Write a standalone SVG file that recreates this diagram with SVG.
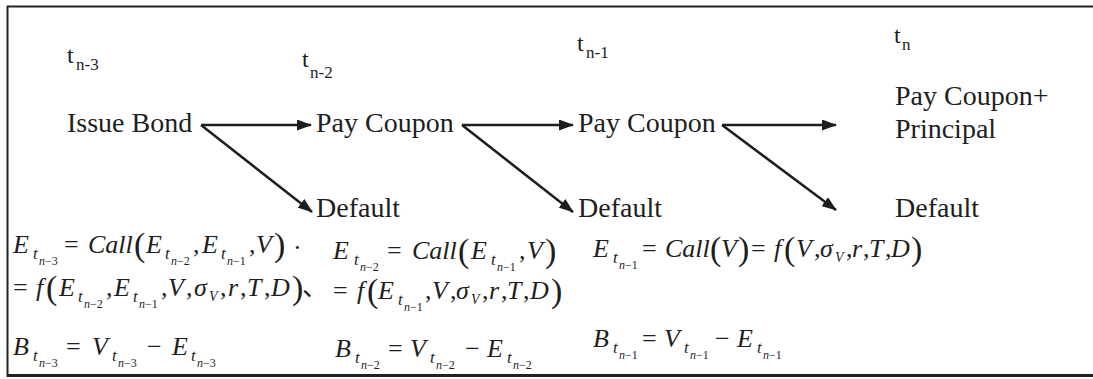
<svg xmlns="http://www.w3.org/2000/svg" width="1093" height="379" viewBox="0 0 1093 379">
<defs>
<style>
.lbl{font-family:"Liberation Serif","Times New Roman",serif;font-size:28px;fill:#1e1e1e}
.tm{font-family:"Liberation Serif","Times New Roman",serif;font-size:24px;fill:#1e1e1e}
.ts{font-size:17px}
.m{font-family:"Liberation Serif","Times New Roman","Noto Sans CJK SC",serif;font-style:italic;font-size:26px;fill:#1e1e1e}
.s1{font-size:17px}
.s2{font-size:12px}
.s3{font-size:14px}
.up{font-style:normal}
.pr{font-style:normal;font-size:34px}
.cn{stroke:#1e1e1e;stroke-width:2.5;fill:none;marker-end:url(#ah)}
.fr{stroke:#222;fill:none}
</style>
<marker id="ah" markerUnits="userSpaceOnUse" markerWidth="15" markerHeight="11" refX="14" refY="5.5" orient="auto">
<path d="M0,0 L15,5.5 L0,11 z" fill="#1e1e1e"/>
</marker>
</defs>
<rect x="0" y="0" width="1093" height="379" fill="#fff"/>
<g id="frame">
<line class="fr" x1="7" y1="6.5" x2="1093" y2="6.5" stroke-width="2"/>
<line class="fr" x1="7.5" y1="6" x2="7.5" y2="377" stroke-width="2"/>
<line class="fr" x1="7" y1="375.5" x2="1093" y2="375.5" stroke-width="3"/>
</g>
<g id="time-labels">
<text class="tm" x="67" y="63">t<tspan class="ts" x="76" y="70">n-3</tspan></text>
<text class="tm" x="302" y="67">t<tspan class="ts" x="310" y="78">n-2</tspan></text>
<text class="tm" x="577" y="51">t<tspan class="ts" x="586" y="58">n-1</tspan></text>
<text class="tm" x="894" y="43">t<tspan class="ts" x="902" y="50">n</tspan></text>
</g>
<g id="connectors">
<line class="cn" x1="201" y1="125" x2="311" y2="125"/>
<line class="cn" x1="201" y1="125" x2="312" y2="212"/>
<line class="cn" x1="462" y1="125" x2="573" y2="125"/>
<line class="cn" x1="462" y1="125" x2="573" y2="212"/>
<line class="cn" x1="722" y1="125" x2="836" y2="125"/>
<line class="cn" x1="722" y1="125" x2="836" y2="210"/>
</g>
<g id="node-issue-bond"><text class="lbl" x="67" y="132">Issue Bond</text></g>
<g id="node-pay-coupon-1"><text class="lbl" x="316" y="132">Pay Coupon</text></g>
<g id="node-pay-coupon-2"><text class="lbl" x="578" y="132">Pay Coupon</text></g>
<g id="node-pay-coupon-principal"><text class="lbl" x="895" y="105">Pay Coupon+</text><text class="lbl" x="895" y="138">Principal</text></g>
<g id="node-default-1"><text class="lbl" x="316" y="217">Default</text></g>
<g id="node-default-2"><text class="lbl" x="578" y="217">Default</text></g>
<g id="node-default-3"><text class="lbl" x="895" y="217">Default</text></g>
<g id="eq-col1">
<text class="m" x="13" y="253">E<tspan class="s1" x="33" y="259">t</tspan><tspan class="s2" x="39" y="265">n<tspan class="up">−3</tspan></tspan><tspan class="up" x="64" y="253">=</tspan><tspan x="88" y="253">Call</tspan><tspan class="pr" x="134" y="256">(</tspan><tspan x="146" y="253">E</tspan><tspan class="s1" x="165" y="259">t</tspan><tspan class="s2" x="171" y="265">n<tspan class="up">−2</tspan></tspan><tspan class="up" x="193" y="253">,</tspan><tspan x="202" y="253">E</tspan><tspan class="s1" x="221" y="259">t</tspan><tspan class="s2" x="227" y="265">n<tspan class="up">−1</tspan></tspan><tspan class="up" x="249" y="253">,</tspan><tspan x="256" y="253">V</tspan><tspan class="pr" x="274" y="256">)</tspan><tspan class="up" x="293" y="256">·</tspan></text>
<text class="m" x="13" y="296"><tspan class="up">=</tspan><tspan x="36" y="296">f</tspan><tspan class="pr" x="46" y="299">(</tspan><tspan x="59" y="296">E</tspan><tspan class="s1" x="78" y="302">t</tspan><tspan class="s2" x="84" y="308">n<tspan class="up">−2</tspan></tspan><tspan class="up" x="106" y="296">,</tspan><tspan x="114" y="296">E</tspan><tspan class="s1" x="133" y="302">t</tspan><tspan class="s2" x="139" y="308">n<tspan class="up">−1</tspan></tspan><tspan class="up" x="161" y="296">,</tspan><tspan x="168" y="296">V</tspan><tspan class="up" x="186" y="296">,</tspan><tspan x="194" y="296">σ</tspan><tspan class="s3" x="209" y="301">V</tspan><tspan class="up" x="220" y="296">,</tspan><tspan x="228" y="296">r</tspan><tspan class="up" x="240" y="296">,</tspan><tspan x="247" y="296">T</tspan><tspan class="up" x="264" y="296">,</tspan><tspan x="271" y="296">D</tspan><tspan class="pr" x="292" y="299">)</tspan><tspan class="up" x="302" y="296">、</tspan></text>
<text class="m" x="13" y="355">B<tspan class="s1" x="33" y="361">t</tspan><tspan class="s2" x="39" y="367">n<tspan class="up">−3</tspan></tspan><tspan class="up" x="66" y="355">=</tspan><tspan x="92" y="355">V</tspan><tspan class="s1" x="112" y="361">t</tspan><tspan class="s2" x="118" y="367">n<tspan class="up">−3</tspan></tspan><tspan class="up" x="147" y="355">−</tspan><tspan x="172" y="355">E</tspan><tspan class="s1" x="191" y="361">t</tspan><tspan class="s2" x="197" y="367">n<tspan class="up">−3</tspan></tspan></text>
</g>
<g id="eq-col2">
<text class="m" x="333" y="259">E<tspan class="s1" x="354" y="265">t</tspan><tspan class="s2" x="360" y="271">n<tspan class="up">−2</tspan></tspan><tspan class="up" x="387" y="259">=</tspan><tspan x="412" y="259">Call</tspan><tspan class="pr" x="458" y="262">(</tspan><tspan x="471" y="259">E</tspan><tspan class="s1" x="491" y="265">t</tspan><tspan class="s2" x="497" y="271">n<tspan class="up">−1</tspan></tspan><tspan class="up" x="519" y="259">,</tspan><tspan x="527" y="259">V</tspan><tspan class="pr" x="545" y="262">)</tspan></text>
<text class="m" x="333" y="299"><tspan class="up">=</tspan><tspan x="357" y="299">f</tspan><tspan class="pr" x="367" y="302">(</tspan><tspan x="378" y="299">E</tspan><tspan class="s1" x="398" y="305">t</tspan><tspan class="s2" x="404" y="311">n<tspan class="up">−1</tspan></tspan><tspan class="up" x="425" y="299">,</tspan><tspan x="432" y="299">V</tspan><tspan class="up" x="450" y="299">,</tspan><tspan x="456" y="299">σ</tspan><tspan class="s3" x="471" y="304">V</tspan><tspan class="up" x="482" y="299">,</tspan><tspan x="489" y="299">r</tspan><tspan class="up" x="501" y="299">,</tspan><tspan x="507" y="299">T</tspan><tspan class="up" x="523" y="299">,</tspan><tspan x="530" y="299">D</tspan><tspan class="pr" x="551" y="302">)</tspan></text>
<text class="m" x="335" y="357">B<tspan class="s1" x="355" y="363">t</tspan><tspan class="s2" x="361" y="369">n<tspan class="up">−2</tspan></tspan><tspan class="up" x="388" y="357">=</tspan><tspan x="410" y="357">V</tspan><tspan class="s1" x="430" y="363">t</tspan><tspan class="s2" x="436" y="369">n<tspan class="up">−2</tspan></tspan><tspan class="up" x="465" y="357">−</tspan><tspan x="487" y="357">E</tspan><tspan class="s1" x="507" y="363">t</tspan><tspan class="s2" x="513" y="369">n<tspan class="up">−2</tspan></tspan></text>
</g>
<g id="eq-col3">
<text class="m" x="593" y="257">E<tspan class="s1" x="613" y="263">t</tspan><tspan class="s2" x="619" y="269">n<tspan class="up">−1</tspan></tspan><tspan class="up" x="642" y="257">=</tspan><tspan x="665" y="257">Call</tspan><tspan class="pr" x="710" y="260">(</tspan><tspan x="721" y="257">V</tspan><tspan class="pr" x="738" y="260">)</tspan><tspan class="up" x="751" y="257">=</tspan><tspan x="774" y="257">f</tspan><tspan class="pr" x="784" y="260">(</tspan><tspan x="796" y="257">V</tspan><tspan class="up" x="814" y="257">,</tspan><tspan x="820" y="257">σ</tspan><tspan class="s3" x="835" y="262">V</tspan><tspan class="up" x="846" y="257">,</tspan><tspan x="852" y="257">r</tspan><tspan class="up" x="863" y="257">,</tspan><tspan x="869" y="257">T</tspan><tspan class="up" x="885" y="257">,</tspan><tspan x="891" y="257">D</tspan><tspan class="pr" x="911" y="260">)</tspan></text>
<text class="m" x="593" y="347">B<tspan class="s1" x="613" y="353">t</tspan><tspan class="s2" x="619" y="359">n<tspan class="up">−1</tspan></tspan><tspan class="up" x="642" y="347">=</tspan><tspan x="664" y="347">V</tspan><tspan class="s1" x="684" y="353">t</tspan><tspan class="s2" x="690" y="359">n<tspan class="up">−1</tspan></tspan><tspan class="up" x="715" y="347">−</tspan><tspan x="737" y="347">E</tspan><tspan class="s1" x="757" y="353">t</tspan><tspan class="s2" x="763" y="359">n<tspan class="up">−1</tspan></tspan></text>
</g>
</svg>
